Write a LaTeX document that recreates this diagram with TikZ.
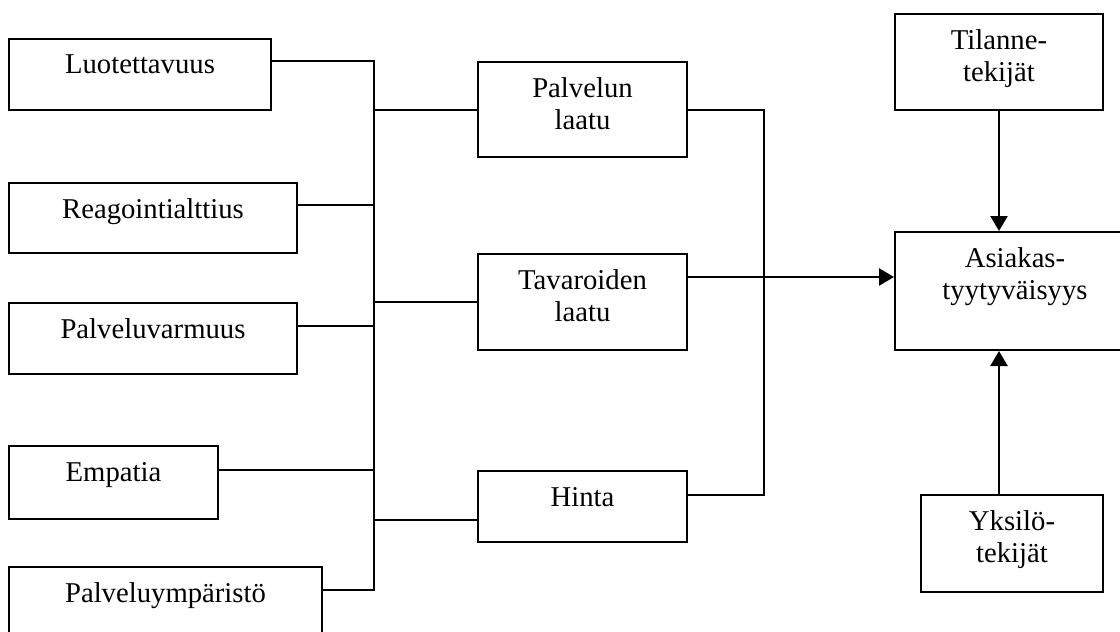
\documentclass[tikz,border=0pt]{standalone}
\usepackage{fontspec}
\setmainfont{Liberation Serif}
\usetikzlibrary{arrows.meta}
\begin{document}
\begin{tikzpicture}[x=0.5pt,y=-0.5pt,
  box/.style={draw, line width=1pt, inner sep=0pt, rectangle},
  txt/.style={anchor=north, inner sep=0pt, yshift=-8.3pt, align=center, font=\fontsize{14.35pt}{16pt}\selectfont},
  conn/.style={line width=1pt},
  arr/.style={line width=1.2pt, -{Triangle[length=7.5pt,width=8.5pt]}}]
\clip (0,0) rectangle (1120,632);
\fill[white] (0,0) rectangle (1120,632);
% left column
\node[box, minimum width=131pt, minimum height=35.5pt, label={[txt]north:Luotettavuus}] (luo) at (140,74.5) {};
\node[box, minimum width=144pt, minimum height=35pt, label={[txt]north:Reagointialttius}] (rea) at (153,218) {};
\node[box, minimum width=144pt, minimum height=35.5pt, label={[txt]north:Palveluvarmuus}] (pva) at (153,338.5) {};
\node[box, minimum width=104.5pt, minimum height=36.5pt, label={[txt]north:Empatia}] (emp) at (113.5,482.5) {};
\node[box, minimum width=156.5pt, minimum height=36pt, label={[txt]north:Palveluympäristö}] (pym) at (165.5,603) {};
% middle column
\node[box, minimum width=104.5pt, minimum height=47.5pt, label={[txt]north:Palvelun\\laatu}] (pal) at (582.5,109.5) {};
\node[box, minimum width=104.5pt, minimum height=48pt, label={[txt]north:Tavaroiden\\laatu}] (tav) at (582.5,302) {};
\node[box, minimum width=104.5pt, minimum height=35.5pt, label={[txt]north:Hinta}] (hin) at (582.5,506.5) {};
% right column
\node[box, minimum width=104pt, minimum height=48pt, label={[txt]north:Tilanne-\\tekijät}] (til) at (999,62) {};
\node[box, minimum width=120pt, minimum height=59pt, label={[txt]north:Asiakas-\\tyytyväisyys}] (asi) at (1015,291) {};
\node[box, minimum width=91pt, minimum height=48.5pt, label={[txt]north:Yksilö-\\tekijät}] (yks) at (1012,543.5) {};
% bus coordinates
\coordinate (bL) at (374,0);
\coordinate (bR) at (764,0);
\coordinate (luoP) at ([yshift=-11.5pt]luo.north east);
\coordinate (reaP) at ([yshift=-11.5pt]rea.north east);
\coordinate (pvaP) at ([yshift=-12pt]pva.north east);
\coordinate (empP) at ([yshift=-12.5pt]emp.north east);
\coordinate (pymP) at ([yshift=-12pt]pym.north east);
\coordinate (hinL) at ([yshift=-6.75pt]hin.west);
\coordinate (hinR) at ([yshift=5.75pt]hin.east);
\coordinate (tavR) at ([yshift=-12pt]tav.north east);
% left connectors
\draw[conn] (luoP) -- (luoP -| bL) -- (pymP -| bL) -- (pymP);
\draw[conn] (reaP) -- (reaP -| bL);
\draw[conn] (pvaP) -- (pvaP -| bL);
\draw[conn] (empP) -- (empP -| bL);
\draw[conn] (pal.west -| bL) -- (pal.west);
\draw[conn] (tav.west -| bL) -- (tav.west);
\draw[conn] (hinL -| bL) -- (hinL);
% right connectors
\draw[conn] (pal.east) -- (pal.east -| bR) -- (hinR -| bR) -- (hinR);
\draw[arr] (tavR) -- (tavR -| asi.west);
\draw[arr] (til.south) -- (til.south |- asi.north);
\draw[arr] (til.south |- yks.north) -- (til.south |- asi.south);
\end{tikzpicture}
\end{document}
